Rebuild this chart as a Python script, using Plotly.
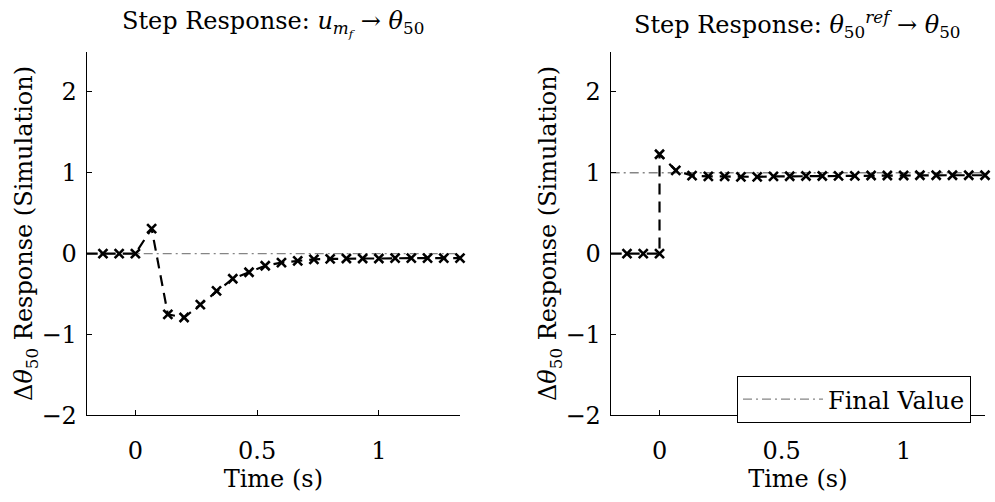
import plotly.graph_objects as go

# Sample times (s), sample period 1/15 s; first sample is the pre-step baseline
time_u = [-0.2, -0.1333, -0.0667, 0.0, 0.0667, 0.1333, 0.2, 0.2667, 0.3333, 0.4,
          0.4667, 0.5333, 0.6, 0.6667, 0.7333, 0.8, 0.8667, 0.9333, 1.0, 1.0667,
          1.1333, 1.2, 1.2667, 1.3333]
resp_u = [0.0, 0.0, 0.0, 0.0, 0.31, -0.75, -0.79, -0.63, -0.46, -0.31,
          -0.23, -0.15, -0.11, -0.09, -0.07, -0.065, -0.06, -0.06, -0.06, -0.055,
          -0.055, -0.055, -0.055, -0.055]
final_u = 0.0

# Reference step: the jump happens at t = 0, so that instant appears twice
time_ref = [-0.2, -0.1333, -0.0667, 0.0, 0.0, 0.0667, 0.1333, 0.2, 0.2667, 0.3333,
            0.4, 0.4667, 0.5333, 0.6, 0.6667, 0.7333, 0.8, 0.8667, 0.9333, 1.0,
            1.0667, 1.1333, 1.2, 1.2667, 1.3333]
resp_ref = [0.0, 0.0, 0.0, 0.0, 1.23, 1.03, 0.965, 0.955, 0.955, 0.95,
            0.95, 0.955, 0.957, 0.96, 0.96, 0.963, 0.963, 0.967, 0.967, 0.967,
            0.97, 0.97, 0.97, 0.97, 0.97]
final_ref = 1.0

x_range = [-0.2, 1.3333]
y_range = [-2, 2.5]
x_ticks = [0, 0.5, 1]
x_tick_text = ["0", "0.5", "1"]
y_ticks = [-2, -1, 0, 1, 2]

titles = ["Step Response: <i>u</i><sub><i>m<sub>f</sub></i></sub> → <i>θ</i><sub>50</sub>",
          "Step Response: <i>θ</i><sub>50</sub><sup><i>ref</i></sup> → <i>θ</i><sub>50</sub>"]
y_title = "Δ<i>θ</i><sub>50</sub> Response (Simulation)"
x_title = "Time (s)"

FONT = "DejaVu Serif"
FS = 24
W, H = 995, 502

fig = go.Figure()

panels = [
    ("x", "y", time_u, resp_u, final_u, False),
    ("x2", "y2", time_ref, resp_ref, final_ref, True),
]
for xa, ya, t, r, fv, show_leg in panels:
    fig.add_trace(go.Scatter(
        x=x_range, y=[fv, fv], xaxis=xa, yaxis=ya, mode="lines",
        line=dict(color="#858585", width=1.4, dash="9px,4px,2px,4px"),
        name="Final Value", showlegend=show_leg, hoverinfo="skip"))
    fig.add_trace(go.Scatter(
        x=t, y=r, xaxis=xa, yaxis=ya, mode="lines",
        line=dict(color="black", width=2.2, dash="11px,7px"),
        showlegend=False, hoverinfo="skip"))
    fig.add_trace(go.Scatter(
        x=t[1:], y=r[1:], xaxis=xa, yaxis=ya, mode="markers",
        marker=dict(symbol="x-thin", size=9, line=dict(color="black", width=2.6)),
        showlegend=False, cliponaxis=False))

# axis placement in pixels
x_dom = [(86.7, 460.0), (610.7, 985.0)]
y_dom = ((H - 427.3) / H, (H - 53.0) / H)

axis_common = dict(
    showgrid=False, zeroline=False, showline=True, linecolor="black", linewidth=1,
    ticks="inside", ticklen=5, tickcolor="black", tickwidth=1,
    tickfont=dict(family=FONT, size=FS, color="black"), mirror=False,
)

layout = dict(
    width=W, height=H, margin=dict(l=0, r=0, t=0, b=0),
    paper_bgcolor="white", plot_bgcolor="white",
    font=dict(family=FONT, size=FS, color="black"),
    legend=dict(x=971 / W, xanchor="right", y=(H - 411) / H, yanchor="middle",
                bgcolor="white", bordercolor="black", borderwidth=1,
                font=dict(family=FONT, size=FS, color="black"),
                itemwidth=80, tracegroupgap=0),
)
for i, (a, b) in enumerate(x_dom):
    sfx = "" if i == 0 else str(i + 1)
    layout["xaxis" + sfx] = dict(
        axis_common, domain=[a / W, b / W], range=x_range, tickvals=x_ticks,
        ticktext=x_tick_text, anchor="y" + sfx, ticklabelstandoff=14,
        title=dict(text=x_title, standoff=6, font=dict(family=FONT, size=FS)))
    layout["yaxis" + sfx] = dict(
        axis_common, domain=list(y_dom), range=y_range, tickvals=y_ticks,
        anchor="x" + sfx, ticklabelstandoff=4,
        title=dict(text=y_title, standoff=0, font=dict(family=FONT, size=FS)))

fig.update_layout(**layout)

for i, (a, b) in enumerate(x_dom):
    fig.add_annotation(text=titles[i], x=(a + b) / 2 / W, y=1 - 25 / H,
                       xref="paper", yref="paper", xanchor="center", yanchor="middle",
                       showarrow=False, font=dict(family=FONT, size=FS, color="black"))

fig.write_html("out.html")
